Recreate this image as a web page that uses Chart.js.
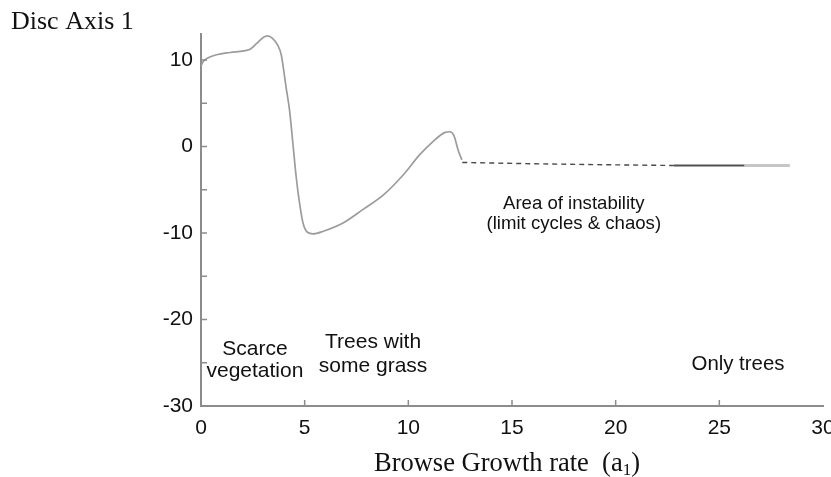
<!DOCTYPE html>
<html>
<head>
<meta charset="utf-8">
<script src="https://cdn.jsdelivr.net/npm/chart.js@4/dist/chart.umd.min.js"></script>
<style>
  html, body { margin: 0; padding: 0; background: #ffffff; }
  #wrap { width: 831px; height: 477px; position: relative; }
</style>
</head>
<body>
<div id="wrap"><canvas id="c" width="831" height="477"></canvas></div>
<script>
// ---- data ----
const stableX = [0, 0.1, 0.35, 0.75, 1.4, 2.2, 2.4, 2.7, 3.0, 3.2, 3.45, 3.7, 3.87, 4.1, 4.27, 4.43, 4.59, 4.75, 4.92, 5.15, 5.4, 5.9, 6.85, 7.8, 8.8, 9.75, 10.55, 11.2, 11.75, 12.0, 12.2, 12.4, 12.58];
const stableY = [9.3, 9.8, 10.25, 10.6, 10.86, 11.1, 11.3, 11.95, 12.6, 12.78, 12.5, 11.7, 10.6, 6.9, 4.2, 0.4, -3.5, -6.5, -8.85, -9.95, -10.1, -9.8, -8.85, -7.3, -5.6, -3.3, -0.95, 0.6, 1.6, 1.7, 1.25, -0.4, -1.55];
const unstableX = [12.6, 16, 19, 22.8];
const unstableY = [-1.85, -2.0, -2.1, -2.2];
const darkX = [22.8, 23.6, 26.2];
const darkY = [-2.2, -2.2, -2.2];
const treesX = [22.8, 26.2, 28.4];
const treesY = [-2.2, -2.2, -2.2];

const xTicks = [0, 5, 10, 15, 20, 25, 30];
const yTicks = [-30, -25, -20, -15, -10, -5, 0, 5, 10];
const yLabelled = [-30, -20, -10, 0, 10];

const yTitle = 'Disc Axis 1';
const xTitleMain = 'Browse Growth rate  (a';
const xTitleSub = '1';
const xTitleEnd = ')';

const notes = [
  { lines: ['Scarce', 'vegetation'], x: 2.6, y: -24.05, dy: 22, size: 21 },
  { lines: ['Trees with', 'some grass'], x: 8.3, y: -23.25, dy: 24, size: 21 },
  { lines: ['Area of instability', '(limit cycles & chaos)'], x: 17.98, y: -7.2, dy: 20, size: 18.6 },
  { lines: ['Only trees'], x: 25.9, y: -25.8, dy: 0, size: 20.4 }
];

const pts = (xs, ys) => xs.map((x, i) => ({ x: x, y: ys[i] }));

const innerTicks = {
  id: 'innerTicks',
  afterDraw(chart) {
    const ctx = chart.ctx;
    const xs = chart.scales.x, ys = chart.scales.y;
    const a = chart.chartArea;
    ctx.save();
    ctx.strokeStyle = '#8c8c8c';
    ctx.lineWidth = 1.5;
    ctx.beginPath();
    xs.ticks.forEach(t => {
      if (t.value <= 0 || t.value >= 30) return;
      const px = xs.getPixelForValue(t.value);
      ctx.moveTo(px, a.bottom);
      ctx.lineTo(px, a.bottom - 6);
    });
    ys.ticks.forEach(t => {
      if (t.value <= -30) return;
      const py = ys.getPixelForValue(t.value);
      ctx.moveTo(a.left, py);
      ctx.lineTo(a.left + 6, py);
    });
    ctx.stroke();

    // annotations
    ctx.fillStyle = '#111111';
    ctx.textAlign = 'center';
    ctx.textBaseline = 'alphabetic';
    notes.forEach(n => {
      ctx.font = n.size + 'px "Liberation Sans", Arial, sans-serif';
      const px = xs.getPixelForValue(n.x);
      const py = ys.getPixelForValue(n.y);
      n.lines.forEach((l, i) => ctx.fillText(l, px, py + i * n.dy));
    });

    // titles
    ctx.textAlign = 'left';
    ctx.font = '26px "Liberation Serif", "Times New Roman", serif';
    ctx.fillText(yTitle, 11, 29);

    const big = '26.5px "Liberation Serif", "Times New Roman", serif';
    const small = '17px "Liberation Serif", "Times New Roman", serif';
    ctx.font = big;
    const w1 = ctx.measureText(xTitleMain).width;
    const w3 = ctx.measureText(xTitleEnd).width;
    ctx.font = small;
    const w2 = ctx.measureText(xTitleSub).width;
    const total = w1 + w2 + w3;
    const cx = (a.left + a.right) / 2 - 5;
    let sx = cx - total / 2;
    const base = 471;
    ctx.font = big;
    ctx.fillText(xTitleMain, sx, base);
    ctx.font = small;
    ctx.fillText(xTitleSub, sx + w1, base + 4);
    ctx.font = big;
    ctx.fillText(xTitleEnd, sx + w1 + w2, base);
    ctx.restore();
  }
};

new Chart(document.getElementById('c'), {
  type: 'scatter',
  data: {
    datasets: [
      { data: pts(unstableX, unstableY), showLine: true, borderColor: '#4a4a4a', borderWidth: 1.4, borderDash: [5, 4], pointRadius: 0 },
      { data: pts(darkX, darkY), showLine: true, borderColor: '#505050', borderWidth: 1.3, pointRadius: 0 },
      { data: pts(treesX, treesY), showLine: true, borderColor: '#c6c6c6', borderWidth: 3, pointRadius: 0 },
      { data: pts(stableX, stableY), showLine: true, borderColor: '#9c9c9c', borderWidth: 1.7, pointRadius: 0, tension: 0.35, cubicInterpolationMode: 'monotone' }
    ]
  },
  options: {
    responsive: false,
    animation: false,
    events: [],
    layout: { padding: { left: 0, right: 8, top: 34, bottom: 0 } },
    plugins: { legend: { display: false }, tooltip: { enabled: false }, title: { display: false } },
    scales: {
      x: {
        type: 'linear', min: 0, max: 30,
        afterBuildTicks: s => { s.ticks = xTicks.map(v => ({ value: v })); },
        afterFit: s => { s.height = 71; s.paddingRight = 0; s.paddingLeft = 0; },
        grid: { display: true, drawOnChartArea: false, drawTicks: false },
        border: { display: true, color: '#8c8c8c', width: 2 },
        ticks: { color: '#111111', padding: 10, font: { family: '"Liberation Sans", Arial, sans-serif', size: 21 }, maxRotation: 0, autoSkip: false }
      },
      y: {
        type: 'linear', min: -30, max: 13,
        afterBuildTicks: s => { s.ticks = yTicks.map(v => ({ value: v })); },
        afterFit: s => { s.width = 201; },
        grid: { display: true, drawOnChartArea: false, drawTicks: false },
        border: { display: true, color: '#8c8c8c', width: 2 },
        ticks: {
          color: '#111111', padding: 8, autoSkip: false,
          font: { family: '"Liberation Sans", Arial, sans-serif', size: 21 },
          callback: v => yLabelled.includes(v) ? String(v) : ''
        }
      }
    }
  },
  plugins: [innerTicks]
});
</script>
</body>
</html>
